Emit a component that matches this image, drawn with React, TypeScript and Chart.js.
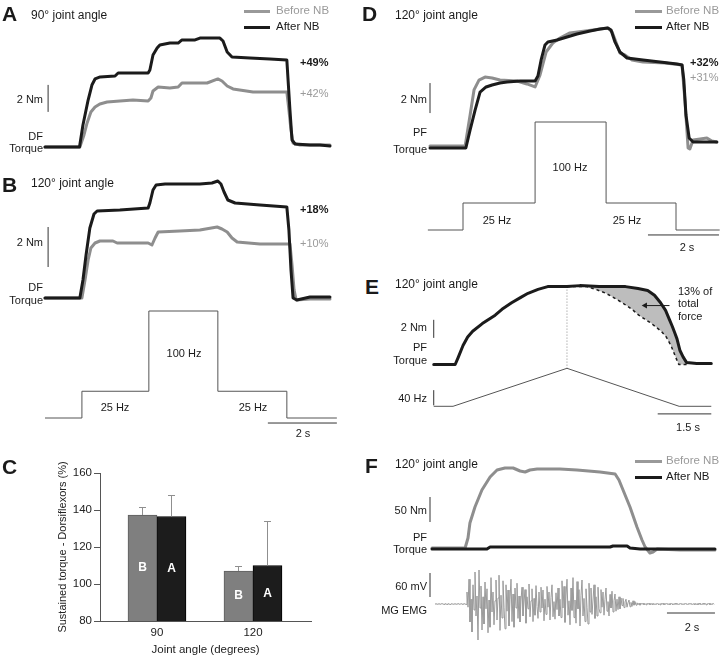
import React, { useEffect, useRef } from 'react';
import { Chart, registerables } from 'chart.js';

Chart.register(...registerables);

const FONT = '"Liberation Sans", Arial, Helvetica, sans-serif';
const BLACK = '#1b1b1b';
const GRAY = '#8e8e8e';
const GRAY_TXT = '#9a9a9a';
const STIM = '#555555';
const BAR_LINE = '#333333';

// ---------------- Panel A (90° joint angle, DF torque, Nm vs s) ----------------
const A_AFTER_T = [0, 1.0, 1.1, 1.25, 1.36, 1.45, 1.6, 2.03, 2.12, 2.99, 3.04, 3.13, 3.25, 3.33, 3.62, 3.86, 3.97, 4.35, 4.49, 5.07, 5.16, 5.28, 5.42, 5.94, 6.52, 7.01, 7.04, 7.1, 7.16, 7.25, 7.68, 7.97, 8.26];
const A_AFTER_NM = [0, 0, 1.63, 3.48, 4.59, 5.04, 5.19, 5.26, 5.48, 5.48, 5.7, 6.81, 7.33, 7.56, 7.7, 7.7, 7.93, 7.93, 8.07, 8.07, 7.85, 7.04, 6.67, 6.59, 6.52, 6.44, 5.2, 2.74, 0.52, 0.22, 0.15, 0.15, 0.07];
const A_BEFORE_T = [0, 1.01, 1.13, 1.22, 1.33, 1.45, 1.59, 1.8, 2.17, 2.55, 2.99, 3.07, 3.13, 3.28, 3.62, 3.86, 3.97, 4.7, 5.01, 5.13, 5.28, 5.45, 6.03, 7.01, 7.07, 7.13, 7.19, 7.39, 8.26];
const A_BEFORE_NM = [0, 0, 0.89, 1.78, 2.59, 2.96, 3.19, 3.33, 3.41, 3.48, 3.41, 3.63, 4.15, 4.44, 4.37, 4.44, 4.74, 4.74, 5.04, 4.89, 4.52, 4.3, 4.07, 4.07, 2.74, 1.26, 0.3, 0.15, 0.15];
const A_NM_BAR = [2.6, 4.6];
const A_BAR_T = 0.09;

// ---------------- Panel B (120° joint angle, DF torque) ----------------
const B_AFTER_T = [0, 1.01, 1.1, 1.19, 1.3, 1.42, 1.51, 2.17, 2.99, 3.04, 3.13, 3.22, 3.48, 4.49, 4.84, 5.01, 5.1, 5.19, 5.3, 5.51, 6.23, 7.01, 7.07, 7.13, 7.19, 7.3, 7.68, 8.26];
const B_AFTER_NM = [0, 0, 0.9, 2.15, 3.5, 4.2, 4.35, 4.4, 4.5, 4.75, 5.4, 5.65, 5.7, 5.7, 5.75, 5.85, 5.7, 5.3, 4.9, 4.75, 4.65, 4.55, 3.4, 1.4, 0, -0.1, 0.05, 0.05];
const B_BEFORE_T = [0, 1.07, 1.16, 1.25, 1.33, 1.45, 1.59, 1.97, 2.09, 2.99, 3.1, 3.19, 3.28, 3.91, 4.49, 4.99, 5.13, 5.28, 5.42, 5.57, 6.23, 7.1, 7.16, 7.22, 7.28, 7.68, 8.26];
const B_BEFORE_NM = [0, 0, 0.9, 1.9, 2.5, 2.75, 2.85, 2.85, 2.75, 2.75, 2.65, 3.0, 3.3, 3.35, 3.4, 3.55, 3.45, 3.3, 3.0, 2.8, 2.7, 2.7, 1.65, 0.4, -0.1, -0.05, -0.05];
const B_STIM_T = [0, 1.07, 3.01, 5.01, 7.01, 8.46];
const B_STIM_HZ = [0, 25, 100, 25, 0, 0];
const B_NM_BAR = [1.55, 3.55];
const B_BAR_T = 0.09;
const B_TIME_BAR = [6.46, 8.46];
const B_TIME_BAR_HZ = -4.7;

// ---------------- Panel C (sustained torque, %) ----------------
const C_ANGLES = [90, 120];
const C_BEFORE = [137.3, 107];
const C_AFTER = [136.5, 110];
const C_BEFORE_ERR = [4.5, 3];
const C_AFTER_ERR = [11.5, 24];

// ---------------- Panel D (120°, PF torque) ----------------
const D_AFTER_T = [0, 1.01, 1.13, 1.27, 1.41, 1.58, 1.75, 1.97, 2.17, 2.54, 2.96, 3.04, 3.13, 3.24, 3.32, 3.58, 3.86, 4.14, 4.51, 4.79, 5.01, 5.1, 5.21, 5.35, 5.55, 6.0, 6.48, 6.96, 7.1, 7.15, 7.21, 7.3, 7.41, 7.75, 8.08];
const D_AFTER_NM = [0, 0, 1.2, 2.53, 3.73, 4.07, 4.2, 4.33, 4.4, 4.47, 4.47, 4.8, 5.87, 6.87, 7.07, 7.2, 7.4, 7.6, 7.8, 7.93, 8.0, 7.87, 7.07, 6.4, 6.0, 5.87, 5.73, 5.6, 5.53, 4.53, 2.2, 0.67, 0.4, 0.4, 0.4];
const D_BEFORE_T = [0, 0.99, 1.13, 1.24, 1.38, 1.55, 1.75, 1.97, 2.45, 2.73, 2.96, 3.1, 3.27, 3.46, 3.66, 3.94, 4.59, 5.01, 5.13, 5.27, 5.35, 5.49, 5.69, 6.0, 6.62, 7.1, 7.18, 7.27, 7.32, 7.41, 7.61, 7.8, 7.94, 8.08];
const D_BEFORE_NM = [0.13, 0.13, 2.2, 3.87, 4.53, 4.73, 4.67, 4.53, 4.47, 4.27, 4.07, 4.87, 6.4, 7.0, 7.33, 7.67, 7.87, 8.0, 7.73, 6.87, 6.33, 6.2, 5.87, 5.73, 5.67, 5.53, 3.2, 0, -0.07, 0.53, 0.6, 0.67, 0.47, 0.4];
const D_STIM_T = [-0.06, 0.93, 2.96, 4.96, 6.93, 8.16];
const D_STIM_HZ = [0, 25, 100, 25, 0, 0];
const D_NM_BAR = [2.33, 4.33];
const D_BAR_T = 0;
const D_TIME_BAR = [6.14, 8.14];
const D_TIME_BAR_HZ = -4.6;

// ---------------- Panel E (ramp stimulation) ----------------
const E_TORQUE_T = [0, 0.6, 0.68, 0.82, 0.95, 1.09, 1.36, 1.72, 1.91, 2.18, 2.45, 2.64, 2.92, 3.19, 3.73, 4.09, 4.63, 5.37, 5.72, 5.99, 6.18, 6.35, 6.49, 6.59, 6.68, 6.76, 6.81, 6.89, 6.98, 7.08, 7.36, 7.77];
const E_TORQUE_NM = [0, 0, 0.74, 2.11, 3.05, 3.68, 4.53, 5.47, 6.11, 6.84, 7.47, 7.89, 8.32, 8.63, 8.63, 8.74, 8.63, 8.63, 8.42, 8.21, 7.68, 6.84, 6.0, 5.05, 4.21, 3.37, 2.84, 1.58, 0.84, 0.21, 0.11, 0.11];
const E_MIRROR_T = [3.73, 4.28, 4.54, 4.82, 5.01, 5.28, 5.55, 5.74, 6.1, 6.37, 6.51, 6.64, 6.78, 6.86, 7.1];
const E_MIRROR_NM = [8.63, 8.63, 8.32, 7.89, 7.47, 6.84, 6.11, 5.47, 4.53, 3.68, 3.05, 2.11, 0.74, 0, 0];
const E_STIM_T = [0, 0.54, 3.73, 6.87, 7.77];
const E_STIM_HZ = [0, 0, 100, 0, 0];
const E_PEAK_T = 3.73;
const E_PEAK_SPAN = [8.63, -0.42];
const E_NM_BAR = [2.95, 4.95];
const E_HZ_BAR = [2.5, 42.5];
const E_BAR_T = 0;
const E_TIME_BAR = [6.27, 7.77];
const E_TIME_BAR_HZ = -20;
const E_ARROW_T = [6.6, 5.92];
const E_ARROW_NM = 6.53;

// ---------------- Panel F (nerve block) ----------------
const F_BEFORE_T = [0, 1.38, 1.5, 1.58, 1.79, 2.08, 2.42, 2.71, 3.04, 3.38, 3.67, 3.88, 4.08, 4.38, 5.33, 6.04, 7.0, 7.63, 7.79, 7.96, 8.25, 8.54, 8.75, 8.88, 9.08, 9.21, 9.38, 10.33, 11.79];
const F_BEFORE_NM = [0, 0, 20, 50, 82, 116, 142, 156, 160, 160, 154, 152, 156, 158, 158, 156, 152, 148, 136, 116, 82, 42, 16, 2, -10, -8, -2, -4, -4];
const F_AFTER_T = [0, 2.29, 2.42, 7.42, 7.54, 8.13, 8.25, 8.67, 11.79];
const F_AFTER_NM = [-2, -2, 2, 2, 4, 4, 0, -2, -2];
const F_EMG_START = 0.125;
const F_EMG_DT = 1 / 24;
const F_EMG_MV = [
  0, 1, -1, 0, 1, -1, 0, 1, 0, -1, 1, 0, -1, 1, 0, -1, 0, 1, -1, 0, 1, -1, 0, 1, 0, -1, 1, 0, -1, 1, 0, -1,
  30, -8, 62, -45, 12, -70, 48, -15, 80, -30, 20, -90, 85, -10, 45, -65, 18, -50,
  55, -12, 38, -72, 10, -58, 66, -20, 30, -52, 8, 60, -40, 15, 72, -66, 22, -35, 58, -8, -62, 48, -18, 35, -55, 12, 62, -44, 25, -58, 40, -10, 52, -36, 20,
  -45, 10, 42, -30, 5, 36, -48, 18, -12, 50, -32, 8, 38, -44, 14, -28, 46, -6, -36, 30, -20, 42, -10, 35, -42, 12, -26, 44, -8, 30, -40, 16, 48, -32, 6, -38, 28, -14, 40, -30,
  12, -34, 58, -10, 44, -46, 20, 62, -28, 8, -52, 40, -16, 66, -34, 10, -48, 56, -12, 36, -55, 22, 60, -30, 14, -44, 38, -8, -50, 52, -20, 40, -26, 10, 48, -36, 18, -30, 42, -12,
  -22, 36, -8, 30, -28, 12, 40, -18, 6, -30, 24, -10, 32, -20, 8, 25, -18, 12, -14, 18,
  -12, 15, -4, 14, -9, 5, 12, -8, 3, 10, -7, 4, -6, 8, -3, 6, -3,
  3, -2, 2, -3, 2, -1, 2, -2, 1, -2, 2, -1, 2, -2, 1, -1, 2, -2, 1, -2,
  2, -1, 1, -2, 2, -1, 2, -2, 1, -1, 2, -2, 1, -2, 2, -1, 1, -2, 2, -1,
  2, -2, 1, -1, 2, -2, 1, -2, 2, -1, 1, -2, 2, -1, 2, -2, 1, -1, 2, -2,
  1, -2, 2, -1, 1, -2, 2, -1, 2, -2, 1, -1, 2, -2, 1, -2, 2, -1,
];
const F_NM_BAR = [52, 102];
const F_MV_BAR = [17.5, 77.5];
const F_BAR_T = -0.083;
const F_TIME_BAR = [9.79, 11.79];
const F_TIME_BAR_MV = -22.5;

// ---------------- layout (page pixels) ----------------
type Axis = { origin: number; ppu: number };
type Panel = { left: number; top: number; width: number; height: number; x0: number; pxPerS: number; axes: Record<string, Axis> };

const PANEL_A: Panel = { left: 40, top: 25, width: 300, height: 135, x0: 45, pxPerS: 34.5, axes: { y: { origin: 147, ppu: 13.5 } } };
const PANEL_B: Panel = { left: 40, top: 175, width: 300, height: 265, x0: 45, pxPerS: 34.5, axes: { y: { origin: 298, ppu: 20 }, hz: { origin: 418, ppu: 1.07 } } };
const PANEL_D: Panel = { left: 420, top: 25, width: 300, height: 230, x0: 430, pxPerS: 35.5, axes: { y: { origin: 148, ppu: 15 }, hz: { origin: 230, ppu: 1.08 } } };
const PANEL_E: Panel = { left: 420, top: 275, width: 300, height: 160, x0: 430, pxPerS: 36.7, axes: { y: { origin: 365, ppu: 9.5 }, hz: { origin: 409, ppu: 0.4 } } };
const PANEL_F: Panel = { left: 420, top: 455, width: 300, height: 195, x0: 432, pxPerS: 24, axes: { y: { origin: 548, ppu: 0.5 }, mv: { origin: 604, ppu: 0.4 } } };
const PANEL_C = { left: 0, top: 440, width: 340, height: 217 };

const pts = (xs: number[], ys: number[]) => xs.map((x, i) => ({ x, y: ys[i] }));

function lin(lo: number, hi: number, origin: number, ppu: number, flip = false) {
  return flip
    ? { min: (origin - hi) / ppu, max: (origin - lo) / ppu }
    : { min: (lo - origin) / ppu, max: (hi - origin) / ppu };
}

function line(data: any[], color: string, width: number, axis = 'y', extra: any = {}) {
  return {
    data, borderColor: color, backgroundColor: color, borderWidth: width, pointRadius: 0,
    yAxisID: axis, clip: false, tension: 0, fill: false, borderJoinStyle: 'round', borderCapStyle: 'round', ...extra,
  };
}
const vbar = (t: number, span: number[], axis = 'y') =>
  line([{ x: t, y: span[0] }, { x: t, y: span[1] }], BAR_LINE, 1, axis, { borderCapStyle: 'butt' });
const hbar = (span: number[], v: number, axis: string) =>
  line([{ x: span[0], y: v }, { x: span[1], y: v }], BAR_LINE, 1, axis, { borderCapStyle: 'butt' });
const stim = (t: number[], hz: number[], stepped: boolean) =>
  line(pts(t, hz), STIM, 1, 'hz', { stepped, borderJoinStyle: 'miter', borderCapStyle: 'butt' });

function traceConfig(p: Panel, datasets: any[]) {
  const scales: any = {
    x: { type: 'linear', display: false, ...lin(p.left, p.left + p.width, p.x0, p.pxPerS) },
  };
  for (const [id, ax] of Object.entries(p.axes)) {
    scales[id] = { type: 'linear', display: false, ...lin(p.top, p.top + p.height, ax.origin, ax.ppu, true) };
  }
  return {
    type: 'line',
    data: { datasets },
    options: {
      animation: false, responsive: false, maintainAspectRatio: false, events: [],
      layout: { padding: 0 },
      plugins: { legend: { display: false }, tooltip: { enabled: false }, filler: { drawTime: 'beforeDatasetsDraw' } },
      elements: { point: { radius: 0 } },
      scales,
    },
  };
}

const configA = () => traceConfig(PANEL_A, [
  line(pts(A_AFTER_T, A_AFTER_NM), BLACK, 3),
  line(pts(A_BEFORE_T, A_BEFORE_NM), GRAY, 3),
  vbar(A_BAR_T, A_NM_BAR),
]);

const configB = () => traceConfig(PANEL_B, [
  line(pts(B_AFTER_T, B_AFTER_NM), BLACK, 3),
  line(pts(B_BEFORE_T, B_BEFORE_NM), GRAY, 3),
  stim(B_STIM_T, B_STIM_HZ, true),
  vbar(B_BAR_T, B_NM_BAR),
  hbar(B_TIME_BAR, B_TIME_BAR_HZ, 'hz'),
]);

const configD = () => traceConfig(PANEL_D, [
  line(pts(D_AFTER_T, D_AFTER_NM), BLACK, 3),
  line(pts(D_BEFORE_T, D_BEFORE_NM), GRAY, 3),
  stim(D_STIM_T, D_STIM_HZ, true),
  vbar(D_BAR_T, D_NM_BAR),
  hbar(D_TIME_BAR, D_TIME_BAR_HZ, 'hz'),
]);

const configE = () => traceConfig(PANEL_E, [
  line(pts(E_TORQUE_T, E_TORQUE_NM), BLACK, 3, 'y', { fill: 1, backgroundColor: '#bdbdbd' }),
  line(pts(E_MIRROR_T, E_MIRROR_NM), BLACK, 1.5, 'y', { borderDash: [3, 3], borderCapStyle: 'butt' }),
  stim(E_STIM_T, E_STIM_HZ, false),
  line([{ x: E_PEAK_T, y: E_PEAK_SPAN[0] }, { x: E_PEAK_T, y: E_PEAK_SPAN[1] }], '#888888', 1, 'y', { borderDash: [1, 2], borderCapStyle: 'butt' }),
  line([{ x: E_ARROW_T[0], y: E_ARROW_NM }, { x: E_ARROW_T[1], y: E_ARROW_NM }], BLACK, 1, 'y', {
    pointRadius: [0, 3.5], pointStyle: 'triangle', pointRotation: -90, pointBackgroundColor: BLACK, pointBorderWidth: 0, borderCapStyle: 'butt',
  }),
  vbar(E_BAR_T, E_NM_BAR),
  vbar(E_BAR_T, E_HZ_BAR, 'hz'),
  hbar(E_TIME_BAR, E_TIME_BAR_HZ, 'hz'),
]);

const configF = () => traceConfig(PANEL_F, [
  line(pts(F_AFTER_T, F_AFTER_NM), BLACK, 3),
  line(pts(F_BEFORE_T, F_BEFORE_NM), GRAY, 3),
  line(F_EMG_MV.map((v, i) => ({ x: F_EMG_START + i * F_EMG_DT, y: v })), '#9a9a9a', 1, 'mv', { borderJoinStyle: 'miter', borderCapStyle: 'butt' }),
  vbar(F_BAR_T, F_NM_BAR),
  vbar(F_BAR_T, F_MV_BAR, 'mv'),
  hbar(F_TIME_BAR, F_TIME_BAR_MV, 'mv'),
]);

const C_TAGS = ['B', 'A'];

const errorBarPlugin = {
  id: 'errorBars',
  afterDatasetsDraw(chart: any) {
    const { ctx } = chart;
    const y = chart.scales.y;
    const errs = [C_BEFORE_ERR, C_AFTER_ERR];
    const vals = [C_BEFORE, C_AFTER];
    vals.forEach((series, di) => {
      const meta = chart.getDatasetMeta(di);
      meta.data.forEach((bar: any, i: number) => {
        const topPx = Math.round(y.getPixelForValue(series[i] + errs[di][i])) + 0.5;
        const valPx = y.getPixelForValue(series[i]);
        const basePx = y.getPixelForValue(y.min);
        const cx = Math.round(bar.x) + 0.5;
        ctx.save();
        ctx.strokeStyle = '#8f8f8f';
        ctx.lineWidth = 1;
        ctx.beginPath();
        ctx.moveTo(cx, valPx);
        ctx.lineTo(cx, topPx);
        ctx.moveTo(cx - 3.5, topPx);
        ctx.lineTo(cx + 3.5, topPx);
        ctx.stroke();
        ctx.fillStyle = '#ffffff';
        ctx.font = `bold 12px ${FONT}`;
        ctx.textAlign = 'center';
        ctx.textBaseline = 'middle';
        ctx.fillText(C_TAGS[di], bar.x, (valPx + basePx) / 2);
        ctx.restore();
      });
    });
  },
};

const configC = () => ({
  type: 'bar',
  data: {
    datasets: [
      { label: 'Before NB', data: pts(C_ANGLES, C_BEFORE), backgroundColor: '#7f7f7f', borderColor: '#5e5e5e', borderWidth: 1, barThickness: 29 },
      { label: 'After NB', data: pts(C_ANGLES, C_AFTER), backgroundColor: '#1c1c1c', borderColor: '#000000', borderWidth: 1, barThickness: 29 },
    ],
  },
  options: {
    animation: false, responsive: false, maintainAspectRatio: false, events: [],
    layout: { padding: { left: 52, top: 33, right: 29, bottom: 0 } },
    plugins: { legend: { display: false }, tooltip: { enabled: false } },
    scales: {
      x: {
        type: 'linear', offset: false, min: 72.19, max: 138.13,
        afterBuildTicks: (s: any) => { s.ticks = C_ANGLES.map((v) => ({ value: v })); },
        afterFit: (s: any) => { s.height = 36; },
        grid: { display: false, drawTicks: false },
        border: { display: true, color: '#555555' },
        ticks: { padding: 5, color: '#222222', font: { family: FONT, size: 11.5 } },
        title: { display: true, text: 'Joint angle (degrees)', color: '#222222', padding: { top: 0, bottom: 0 }, font: { family: FONT, size: 11.5 } },
      },
      y: {
        min: 80, max: 160, beginAtZero: false,
        afterFit: (s: any) => { s.width = 48; },
        ticks: { stepSize: 20, padding: 2, color: '#222222', font: { family: FONT, size: 11.5 } },
        grid: { drawOnChartArea: false, tickLength: 6, color: '#555555' },
        border: { color: '#555555' },
        title: { display: true, text: 'Sustained torque - Dorsiflexors (%)', color: '#222222', padding: { top: 4, bottom: 0 }, font: { family: FONT, size: 11 } },
      },
    },
  },
  plugins: [errorBarPlugin],
});

function ChartCanvas({ rect, config }: { rect: { left: number; top: number; width: number; height: number }; config: () => any }) {
  const ref = useRef<HTMLCanvasElement>(null);
  useEffect(() => {
    const chart = new Chart(ref.current as HTMLCanvasElement, config());
    return () => chart.destroy();
  }, []);
  return (
    <canvas
      ref={ref}
      width={rect.width}
      height={rect.height}
      style={{ position: 'absolute', left: rect.left, top: rect.top, width: rect.width, height: rect.height }}
    />
  );
}

type Lbl = { t: string; x: number; y: number; a?: 'l' | 'r' | 'c'; s?: number; b?: boolean; c?: string };
const LABELS: Lbl[] = [
  // A
  { t: 'A', x: 2, y: 13, s: 21, b: true },
  { t: '90° joint angle', x: 31, y: 15, s: 12 },
  { t: 'Before NB', x: 276, y: 11, s: 11.5, c: GRAY_TXT },
  { t: 'After NB', x: 276, y: 27, s: 11.5 },
  { t: '+49%', x: 300, y: 62, b: true },
  { t: '+42%', x: 300, y: 93, c: GRAY_TXT },
  { t: '2 Nm', x: 43, y: 99, a: 'r' },
  { t: 'DF', x: 43, y: 136, a: 'r' },
  { t: 'Torque', x: 43, y: 148, a: 'r' },
  // B
  { t: 'B', x: 2, y: 184, s: 21, b: true },
  { t: '120° joint angle', x: 31, y: 183, s: 12 },
  { t: '+18%', x: 300, y: 209, b: true },
  { t: '+10%', x: 300, y: 243, c: GRAY_TXT },
  { t: '2 Nm', x: 43, y: 242, a: 'r' },
  { t: 'DF', x: 43, y: 287, a: 'r' },
  { t: 'Torque', x: 43, y: 300, a: 'r' },
  { t: '100 Hz', x: 184, y: 353, a: 'c' },
  { t: '25 Hz', x: 115, y: 407, a: 'c' },
  { t: '25 Hz', x: 253, y: 407, a: 'c' },
  { t: '2 s', x: 303, y: 433, a: 'c' },
  // C
  { t: 'C', x: 2, y: 466, s: 21, b: true },
  // D
  { t: 'D', x: 362, y: 13, s: 21, b: true },
  { t: '120° joint angle', x: 395, y: 15, s: 12 },
  { t: 'Before NB', x: 666, y: 11, s: 11.5, c: GRAY_TXT },
  { t: 'After NB', x: 666, y: 27, s: 11.5 },
  { t: '+32%', x: 690, y: 62, b: true },
  { t: '+31%', x: 690, y: 77, c: GRAY_TXT },
  { t: '2 Nm', x: 427, y: 99, a: 'r' },
  { t: 'PF', x: 427, y: 132, a: 'r' },
  { t: 'Torque', x: 427, y: 149, a: 'r' },
  { t: '100 Hz', x: 570, y: 167, a: 'c' },
  { t: '25 Hz', x: 497, y: 220, a: 'c' },
  { t: '25 Hz', x: 627, y: 220, a: 'c' },
  { t: '2 s', x: 687, y: 247, a: 'c' },
  // E
  { t: 'E', x: 365, y: 286, s: 21, b: true },
  { t: '120° joint angle', x: 395, y: 284, s: 12 },
  { t: '2 Nm', x: 427, y: 327, a: 'r' },
  { t: 'PF', x: 427, y: 347, a: 'r' },
  { t: 'Torque', x: 427, y: 360, a: 'r' },
  { t: '40 Hz', x: 427, y: 398, a: 'r' },
  { t: '13% of', x: 678, y: 291 },
  { t: 'total', x: 678, y: 303 },
  { t: 'force', x: 678, y: 316 },
  { t: '1.5 s', x: 688, y: 427, a: 'c' },
  // F
  { t: 'F', x: 365, y: 465, s: 21, b: true },
  { t: '120° joint angle', x: 395, y: 464, s: 12 },
  { t: 'Before NB', x: 666, y: 461, s: 11.5, c: GRAY_TXT },
  { t: 'After NB', x: 666, y: 477, s: 11.5 },
  { t: '50 Nm', x: 427, y: 510, a: 'r' },
  { t: 'PF', x: 427, y: 537, a: 'r' },
  { t: 'Torque', x: 427, y: 549, a: 'r' },
  { t: '60 mV', x: 427, y: 586, a: 'r' },
  { t: 'MG EMG', x: 427, y: 610, a: 'r' },
  { t: '2 s', x: 692, y: 627, a: 'c' },
];

const SWATCHES = [
  { x1: 244, x2: 270, y: 11.5, c: '#999999' },
  { x1: 244, x2: 270, y: 27, c: BLACK },
  { x1: 635, x2: 662, y: 11, c: '#999999' },
  { x1: 635, x2: 662, y: 27, c: BLACK },
  { x1: 635, x2: 662, y: 461, c: '#999999' },
  { x1: 635, x2: 662, y: 477, c: BLACK },
];

export default function App() {
  return (
    <div style={{ position: 'fixed', left: 0, top: 0, width: 720, height: 657, background: '#ffffff', overflow: 'hidden', fontFamily: FONT }}>
      <ChartCanvas rect={PANEL_A} config={configA} />
      <ChartCanvas rect={PANEL_B} config={configB} />
      <ChartCanvas rect={PANEL_C} config={configC} />
      <ChartCanvas rect={PANEL_D} config={configD} />
      <ChartCanvas rect={PANEL_E} config={configE} />
      <ChartCanvas rect={PANEL_F} config={configF} />
      {SWATCHES.map((s, i) => (
        <div key={'s' + i} style={{ position: 'absolute', left: s.x1, top: s.y - 1.5, width: s.x2 - s.x1, height: 3, background: s.c }} />
      ))}
      {LABELS.map((l, i) => (
        <div
          key={'l' + i}
          style={{
            position: 'absolute', left: l.x, top: l.y,
            transform: `translate(${l.a === 'r' ? '-100%' : l.a === 'c' ? '-50%' : '0'}, -50%)`,
            whiteSpace: 'nowrap', lineHeight: 1, fontFamily: FONT,
            fontSize: l.s ?? 11, fontWeight: l.b ? 'bold' : 'normal', color: l.c ?? '#1a1a1a',
          }}
        >
          {l.t}
        </div>
      ))}
    </div>
  );
}
